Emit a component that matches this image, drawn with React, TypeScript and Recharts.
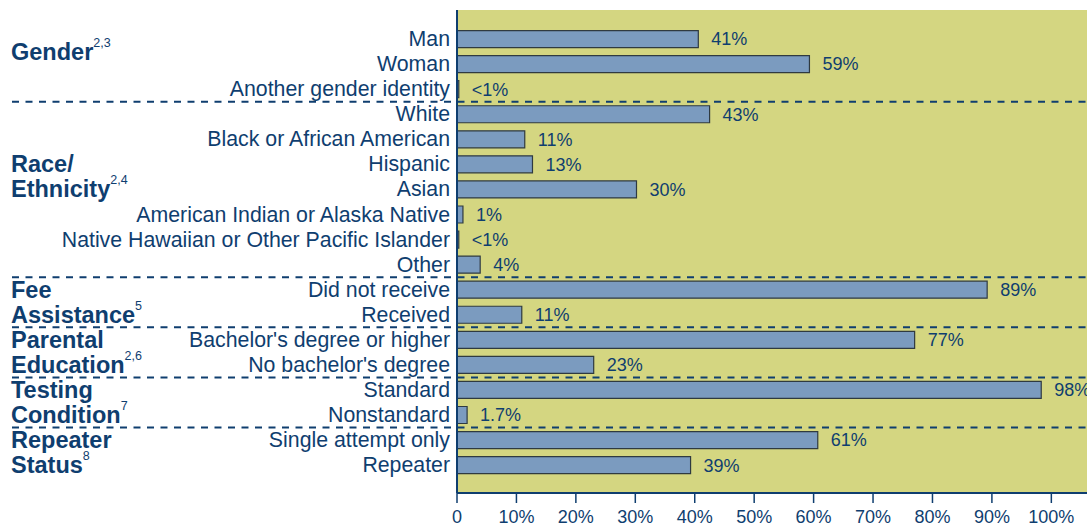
import { Bar, BarChart, CartesianGrid, LabelList, ReferenceLine, XAxis, YAxis } from "recharts";

const categories = [
  "Man",
  "Woman",
  "Another gender identity",
  "White",
  "Black or African American",
  "Hispanic",
  "Asian",
  "American Indian or Alaska Native",
  "Native Hawaiian or Other Pacific Islander",
  "Other",
  "Did not receive",
  "Received",
  "Bachelor's degree or higher",
  "No bachelor's degree",
  "Standard",
  "Nonstandard",
  "Single attempt only",
  "Repeater",
];
const shares = [40.6, 59.3, 0.3, 42.5, 11.4, 12.7, 30.2, 1.0, 0.3, 3.9, 89.2, 10.9, 77.0, 23.0, 98.3, 1.7, 60.7, 39.3];
const shareLabels = ["41%", "59%", "<1%", "43%", "11%", "13%", "30%", "1%", "<1%", "4%", "89%", "11%", "77%", "23%", "98%", "1.7%", "61%", "39%"];

// first row of each group after the first one (dashed separator above it)
const groupStarts = [3, 10, 12, 14, 16];
const groupTitleRows = [0.5, 5, 6, 10, 11, 12, 13, 14, 15, 16, 17];
const groupTitleText = ["Gender", "Race/", "Ethnicity", "Fee", "Assistance", "Parental", "Education", "Testing", "Condition", "Repeater", "Status"];
const groupTitleNotes = ["2,3", "", "2,4", "", "5", "", "2,6", "", "7", "", "8"];

const xTicks = [0, 10, 20, 30, 40, 50, 60, 70, 80, 90, 100];

const data = categories.map((name, i) => ({ row: i, name, share: shares[i], label: shareLabels[i] }));

const NAVY = "#0f3e6f";
const FONT = "'Liberation Sans', Arial, sans-serif";
const WIDTH = 1087;
const HEIGHT = 527;
const TOP = 10;
const X_AXIS_H = 34;
const AXIS_W = 457;
const X_MAX = 106;
const Y_DOMAIN: [number, number] = [-1.16, 18.11];
const PX_PER_PCT = (WIDTH - AXIS_W) / X_MAX;
const PX_PER_ROW = (HEIGHT - TOP - X_AXIS_H) / (Y_DOMAIN[1] - Y_DOMAIN[0]);
const SEP_START = -(AXIS_W - 12) / PX_PER_PCT;

function RowTick({ y, payload }: any) {
  const r = payload.value;
  const titles = groupTitleRows
    .map((row, i) => ({ row, i }))
    .filter((g) => g.row >= r && g.row < r + 1);
  return (
    <g>
      <text x={450} y={y} dy="0.33em" textAnchor="end" fill={NAVY} fontSize={21.3} fontFamily={FONT}>
        {categories[r]}
      </text>
      {titles.map(({ row, i }) => (
        <text
          key={i}
          x={11}
          y={y + (row - r) * PX_PER_ROW}
          dy="0.34em"
          fill={NAVY}
          fontSize={23.5}
          fontWeight="bold"
          fontFamily={FONT}
        >
          {groupTitleText[i]}
          {groupTitleNotes[i] && (
            <tspan fontSize={12.5} fontWeight="normal" dy={-13}>
              {groupTitleNotes[i]}
            </tspan>
          )}
        </text>
      ))}
    </g>
  );
}

export default function App() {
  return (
    <div style={{ position: "absolute", left: 0, top: 0, fontFamily: FONT }}>
      <BarChart
        width={WIDTH}
        height={HEIGHT}
        data={data}
        layout="vertical"
        margin={{ top: TOP, right: 0, bottom: 0, left: 0 }}
      >
        <CartesianGrid fill="#d4d681" stroke="none" horizontal={false} vertical={false} />
        <XAxis
          type="number"
          domain={[0, X_MAX]}
          ticks={xTicks}
          interval={0}
          tickFormatter={(v) => (v === 0 ? "0" : `${v}%`)}
          height={X_AXIS_H}
          tickSize={10}
          tickMargin={7}
          stroke={NAVY}
          axisLine={{ stroke: NAVY, strokeWidth: 2 }}
          tickLine={{ stroke: NAVY, strokeWidth: 1.5 }}
          tick={{ fill: NAVY, fontSize: 18, fontFamily: FONT }}
        />
        <XAxis
          xAxisId="top"
          orientation="top"
          type="number"
          domain={[0, X_MAX]}
          height={0}
          tick={false}
          tickLine={false}
          axisLine={{ stroke: NAVY, strokeWidth: 2 }}
        />
        <YAxis
          type="number"
          dataKey="row"
          domain={Y_DOMAIN}
          allowDataOverflow
          ticks={categories.map((_, i) => i)}
          interval={0}
          width={AXIS_W}
          tickLine={false}
          axisLine={{ stroke: NAVY, strokeWidth: 2 }}
          tick={<RowTick />}
        />
        {groupStarts.map((r) => (
          <ReferenceLine
            key={r}
            segment={[
              { x: SEP_START, y: r - 0.5 },
              { x: X_MAX, y: r - 0.5 },
            ]}
            ifOverflow="visible"
            stroke={NAVY}
            strokeWidth={2}
            strokeDasharray="7 6.5"
          />
        ))}
        <Bar dataKey="share" barSize={17} fill="#7b9bbf" stroke="#2f3a40" strokeWidth={1.2} isAnimationActive={false}>
          <LabelList dataKey="label" position="right" offset={13} fill={NAVY} fontSize={18} fontFamily={FONT} />
        </Bar>
      </BarChart>
    </div>
  );
}
